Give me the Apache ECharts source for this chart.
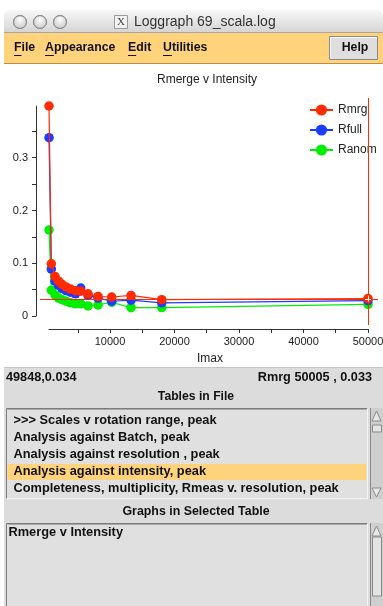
<!DOCTYPE html>
<html>
<head>
<meta charset="utf-8">
<title>Loggraph 69_scala.log</title>
<script src="https://cdn.jsdelivr.net/npm/echarts@6/dist/echarts.min.js"></script>
<style>
  html, body { margin: 0; padding: 0; background: #ffffff; }
  #chart { width: 383px; height: 606px; }
</style>
</head>
<body>
<div id="chart"></div>
<script>
// Rmerge v Intensity, from the "Analysis against intensity, peak" table
const imax  = [540, 900, 1470, 2020, 2560, 3180, 3880, 4650, 5460, 6590, 8140, 10260, 13260, 18020, 50005];
const rmrg  = [0.398, 0.099, 0.075, 0.066, 0.060, 0.055, 0.051, 0.048, 0.047, 0.042, 0.037, 0.036, 0.039, 0.031, 0.033];
const rfull = [0.338, 0.089, 0.066, 0.058, 0.052, 0.048, 0.045, 0.042, 0.053, 0.039, 0.034, 0.028, 0.030, 0.025, 0.029];
const ranom = [0.163, 0.049, 0.040, 0.034, 0.031, 0.028, 0.025, 0.023, 0.023, 0.019, 0.021, 0.026, 0.016, 0.016, 0.022];

const seriesNames = ['Rmrg', 'Rfull', 'Ranom'];
const xTickValues  = [5000, 10000, 15000, 20000, 25000, 30000, 35000, 40000, 45000, 50000];
const xLabelValues = [10000, 20000, 30000, 40000, 50000];
const yTickValues  = [0, 0.05, 0.1, 0.15, 0.2, 0.25, 0.3, 0.35];
const yLabelValues = [0, 0.1, 0.2, 0.3];

// picked point shown by the cursor
const cursorPos   = [49848, 0.034];
const pickedPoint = { series: 'Rmrg', x: 50005, y: 0.033 };

const windowTitle = 'Loggraph 69_scala.log';
const plotTitle   = 'Rmerge v Intensity';
const menuItems   = ['File', 'Appearance', 'Edit', 'Utilities'];
const tableItems  = [
  '>>> Scales v rotation range, peak',
  'Analysis against Batch, peak',
  'Analysis against resolution , peak',
  'Analysis against intensity, peak',
  'Completeness, multiplicity, Rmeas v. resolution, peak'
];
const selectedTable = 3;
const graphItems = ['Rmerge v Intensity'];

const UI_FONT = '"Liberation Sans", Arial, Helvetica, sans-serif';
const LIST_FONT = 'bold 12.8px ' + UI_FONT;
const colors = { Rmrg: '#ff2a00', Rfull: '#1c3cff', Ranom: '#00ee00' };

const measureCtx = document.createElement('canvas').getContext('2d');
function textWidth(t, font) { measureCtx.font = font; return measureCtx.measureText(t).width; }

function txt(text, x, y, opts) {
  opts = opts || {};
  return {
    type: 'text', z: opts.z || 10,
    style: {
      text: text, x: x, y: y,
      fill: opts.fill || '#111',
      font: opts.font || LIST_FONT,
      textAlign: opts.align || 'left',
      textVerticalAlign: 'middle'
    }
  };
}
function rect(x, y, w, h, fill, opts) {
  opts = opts || {};
  return {
    type: 'rect', z: opts.z || 1,
    shape: { x: x, y: y, width: w, height: h, r: opts.r || 0 },
    style: { fill: fill, stroke: opts.stroke || null, lineWidth: opts.lineWidth || 1 }
  };
}
function line(x1, y1, x2, y2, stroke, opts) {
  opts = opts || {};
  return {
    type: 'line', z: opts.z || 5,
    shape: { x1: x1, y1: y1, x2: x2, y2: y2 },
    style: { stroke: stroke, lineWidth: opts.lineWidth || 1 }
  };
}

// ---- window chrome ----
const chrome = [];
const WL = 4;
// title bar
chrome.push({
  type: 'rect', z: 1,
  shape: { x: WL, y: 10, width: 383 - WL, height: 23, r: [6, 6, 0, 0] },
  style: {
    fill: new echarts.graphic.LinearGradient(0, 0, 0, 1, [
      { offset: 0, color: '#f7f7f7' }, { offset: 1, color: '#d4d4d4' }
    ])
  }
});
chrome.push(line(WL, 32.5, 383, 32.5, '#a6a6a6'));
[20, 40, 60].forEach(function (cx) {
  chrome.push({
    type: 'circle', z: 3,
    shape: { cx: cx, cy: 22, r: 6.5 },
    style: {
      fill: new echarts.graphic.RadialGradient(0.5, 0.35, 0.7, [
        { offset: 0, color: '#fdfdfd' }, { offset: 1, color: '#c4c4c4' }
      ]),
      stroke: '#8e8e8e', lineWidth: 1
    }
  });
});
chrome.push(rect(114.5, 15.5, 13, 13, '#f2f2f2', { stroke: '#9a9a9a', z: 3 }));
chrome.push(txt('X', 121, 22.5, { font: '11px "Liberation Serif", serif', fill: '#444', align: 'center', z: 4 }));
chrome.push(txt(windowTitle, 134, 22, { font: '14px ' + UI_FONT, fill: '#333' }));

// menu bar
chrome.push(rect(WL, 33, 383 - WL, 30, '#ffd37c'));
chrome.push(line(WL, 63.5, 383, 63.5, '#b98f45'));
const menuX = [14, 45, 128, 163];
const menuFont = 'bold 12.3px ' + UI_FONT;
menuItems.forEach(function (m, i) {
  chrome.push(txt(m, menuX[i], 48, { font: menuFont }));
  const w = textWidth(m.charAt(0), menuFont);
  chrome.push(line(menuX[i], 55.5, menuX[i] + w, 55.5, '#111'));
});
// Help button
chrome.push(rect(329.5, 36.5, 48, 23, '#dedede', { stroke: '#8a8a8a', z: 2 }));
chrome.push(line(330.5, 37.5, 376.5, 37.5, '#fafafa', { z: 3 }));
chrome.push(line(330.5, 37.5, 330.5, 58.5, '#fafafa', { z: 3 }));
chrome.push(txt('Help', 355, 48, { align: 'center', font: menuFont }));

// lower panel
const PANEL = '#dcdcdc';
chrome.push(rect(WL, 367, 383 - WL, 606 - 367, PANEL));
chrome.push(line(WL, 367.5, 383, 367.5, '#c4c4c4'));
chrome.push(txt(cursorPos[0] + ',' + cursorPos[1].toFixed(3), 6, 377, { font: 'bold 12.7px ' + UI_FONT }));
chrome.push(txt(pickedPoint.series + ' ' + pickedPoint.x + ' , ' + pickedPoint.y.toFixed(3), 372, 377,
  { font: 'bold 12.7px ' + UI_FONT, align: 'right' }));
chrome.push(txt('Tables in File', 196, 397, { align: 'center', font: 'bold 12.2px ' + UI_FONT }));

function listBox(y0, y1, thumb) {
  const out = [];
  out.push(rect(6.5, y0 + 0.5, 361, y1 - y0, '#e0e0e0', { z: 2 }));
  out.push(line(6.5, y0 + 0.5, 367.5, y0 + 0.5, '#7c7c7c', { z: 3 }));
  out.push(line(6.5, y0 + 0.5, 6.5, y1, '#7c7c7c', { z: 3 }));
  out.push(line(7.5, y0 + 1.5, 366.5, y0 + 1.5, '#a8a8a8', { z: 3 }));
  out.push(line(367.5, y0 + 0.5, 367.5, y1, '#f4f4f4', { z: 3 }));
  out.push(line(6.5, y1 - 0.5, 367.5, y1 - 0.5, '#f4f4f4', { z: 3 }));
  // scrollbar
  out.push(rect(370, y0, 13, y1 - y0, '#cfcfcf', { z: 2 }));
  out.push(line(370.5, y0, 370.5, y1, '#8a8a8a', { z: 3 }));
  out.push({
    type: 'polygon', z: 4,
    shape: { points: [[376.5, y0 + 3], [372, y0 + 13], [381, y0 + 13]] },
    style: { fill: '#e8e8e8', stroke: '#8a8a8a', lineWidth: 1 }
  });
  out.push(rect(372.5, thumb[0], 9, thumb[1] - thumb[0], '#e4e4e4', { stroke: '#8a8a8a', z: 4 }));
  return out;
}
// tables list
Array.prototype.push.apply(chrome, listBox(408, 499, [425, 432]));
chrome.push({
  type: 'polygon', z: 4,
  shape: { points: [[372, 488], [381, 488], [376.5, 497]] },
  style: { fill: '#e8e8e8', stroke: '#8a8a8a', lineWidth: 1 }
});
const rowY = [420, 437, 454, 471.5, 488.5];
chrome.push(rect(7.5, 464, 358.5, 16, '#ffd37c', { z: 5 }));
tableItems.forEach(function (t, i) {
  chrome.push(txt(t, 13.5, rowY[i], { z: 6 }));
});
chrome.push(txt('Graphs in Selected Table', 196, 512, { align: 'center', font: 'bold 12.4px ' + UI_FONT }));
// graphs list
Array.prototype.push.apply(chrome, listBox(523, 607, [537, 596]));
graphItems.forEach(function (g, i) {
  chrome.push(txt(g, 8.5, 532 + i * 17, { z: 6 }));
});

// ---- plot ----
const chart = echarts.init(document.getElementById('chart'), null, { renderer: 'canvas' });

function makeSeries(name, values, z) {
  return {
    name: name, type: 'line', z: z,
    data: imax.map(function (x, i) { return [x, values[i]]; }),
    symbol: 'circle', symbolSize: 9.5, showSymbol: true,
    clip: false, animation: false,
    itemStyle: { color: colors[name] },
    lineStyle: { color: colors[name], width: 1.2 },
    emphasis: { disabled: true }
  };
}

const axisTextStyle = { color: '#222', fontSize: 11, fontFamily: UI_FONT };

chart.setOption({
  backgroundColor: '#ffffff',
  animation: false,
  title: {
    text: plotTitle, left: 207, top: 74, textAlign: 'center', padding: 0,
    textStyle: { fontSize: 12, fontWeight: 'normal', color: '#222', fontFamily: UI_FONT }
  },
  legend: {
    orient: 'vertical', left: 309, top: 104, padding: 0,
    itemWidth: 23, itemHeight: 14, itemGap: 8,
    data: seriesNames,
    lineStyle: { width: 2 },
    textStyle: { fontSize: 12, color: '#222', fontFamily: UI_FONT },
    selectedMode: false
  },
  grid: { left: 49, right: 15, top: 106, bottom: 290, containLabel: false, outerBoundsMode: 'none' },
  xAxis: {
    type: 'value', min: 540, max: 50005, offset: 13,
    name: 'Imax', nameLocation: 'start', nameGap: 0,
    nameTextStyle: { fontSize: 12, color: '#222', fontFamily: UI_FONT, align: 'left', verticalAlign: 'top', padding: [24, 0, 0, 148] },
    axisLine: { show: true, onZero: false, lineStyle: { color: '#333', width: 1 } },
    axisTick: { show: true, inside: false, length: 4, customValues: xTickValues, lineStyle: { color: '#333' } },
    axisLabel: { margin: 7, customValues: xLabelValues, formatter: function (v) { return String(v); }, ...axisTextStyle },
    splitLine: { show: false }
  },
  yAxis: {
    type: 'value', min: 0, max: 0.398, offset: 13,
    axisLine: { show: true, onZero: false, lineStyle: { color: '#333', width: 1 } },
    axisTick: { show: true, inside: false, length: 4, customValues: yTickValues, lineStyle: { color: '#333' } },
    axisLabel: { margin: 8, customValues: yLabelValues, formatter: function (v) { return String(+v.toFixed(2)); }, ...axisTextStyle },
    splitLine: { show: false }
  },
  series: [
    makeSeries('Rmrg', rmrg, 5),
    makeSeries('Rfull', rfull, 4),
    makeSeries('Ranom', ranom, 3)
  ],
  graphic: { elements: chrome }
});

// cursor cross-hair through the picked point
const p = chart.convertToPixel({ gridIndex: 0 }, [pickedPoint.x, pickedPoint.y]);
const cross = [
  line(Math.round(p[0]) + 0.5, 98, Math.round(p[0]) + 0.5, 325, colors.Rmrg, { z: 50 }),
  line(40, Math.round(p[1]) + 0.5, 378, Math.round(p[1]) + 0.5, colors.Rmrg, { z: 50 }),
  line(p[0] - 3, Math.round(p[1]) + 0.5, p[0] + 3, Math.round(p[1]) + 0.5, '#ffffff', { z: 51 }),
  line(Math.round(p[0]) + 0.5, p[1] - 3, Math.round(p[0]) + 0.5, p[1] + 3, '#ffffff', { z: 51 })
];
chart.setOption({ graphic: { elements: chrome.concat(cross) } });
</script>
</body>
</html>
